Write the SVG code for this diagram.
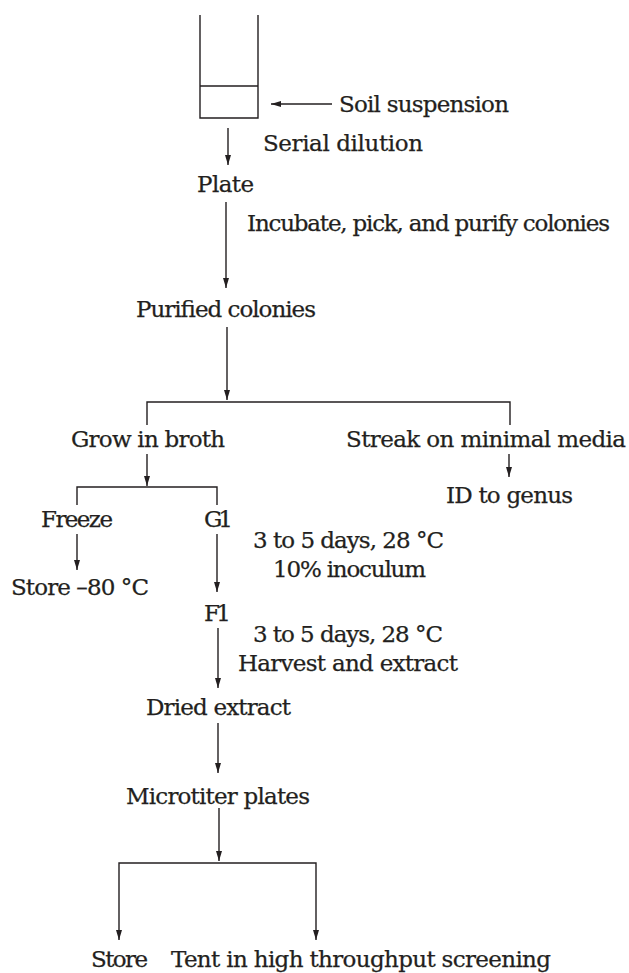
<svg xmlns="http://www.w3.org/2000/svg" width="629" height="973" viewBox="0 0 629 973">
<style>
text{font-family:"DejaVu Serif","Liberation Serif",serif;font-size:23px;fill:#231f20;stroke:#231f20;stroke-width:0.25}
.ln{fill:none;stroke:#231f20;stroke-width:1.4}
.ar{fill:none;stroke:#231f20;stroke-width:1.4;marker-end:url(#ah)}
</style>
<defs>
<marker id="ah" markerUnits="userSpaceOnUse" markerWidth="10" markerHeight="6" refX="10" refY="3" orient="auto" viewBox="0 0 10 6">
<path d="M0,0 L10,3 L0,6 z" fill="#231f20"/>
</marker>
</defs>
<rect width="629" height="973" fill="#fff"/>
<g id="tube">
<path class="ln" d="M200,15 V118 H258 V15 M200,86 H258"/>
</g>
<g id="connectors">
<line class="ar" x1="332" y1="104" x2="271" y2="104"/>
<line class="ar" x1="228" y1="128" x2="228" y2="165"/>
<line class="ar" x1="226" y1="202" x2="226" y2="288"/>
<line class="ar" x1="227" y1="327" x2="227" y2="400"/>
<path class="ln" d="M147,425 V402 H510 V425"/>
<line class="ar" x1="147" y1="454" x2="147" y2="486"/>
<path class="ln" d="M77,505 V487 H217 V505"/>
<line class="ar" x1="509" y1="454" x2="509" y2="477"/>
<line class="ar" x1="77" y1="534" x2="77" y2="570"/>
<line class="ar" x1="217" y1="534" x2="217" y2="592"/>
<line class="ar" x1="218" y1="628" x2="218" y2="688"/>
<line class="ar" x1="218" y1="723" x2="218" y2="773"/>
<line class="ar" x1="219" y1="808" x2="219" y2="861"/>
<path class="ar" d="M219,863 H119 V940"/>
<path class="ar" d="M219,863 H316 V940"/>
</g>
<g id="n-soil"><text x="339" y="112" textLength="170">Soil suspension</text></g>
<g id="l-serial"><text x="263" y="151" textLength="160">Serial dilution</text></g>
<g id="n-plate"><text x="197" y="192" textLength="57">Plate</text></g>
<g id="l-incubate"><text x="247" y="231" textLength="363">Incubate, pick, and purify colonies</text></g>
<g id="n-purified"><text x="136" y="317" textLength="180">Purified colonies</text></g>
<g id="n-grow"><text x="71" y="447" textLength="154">Grow in broth</text></g>
<g id="n-streak"><text x="346" y="447" textLength="280">Streak on minimal media</text></g>
<g id="n-id"><text x="446" y="503" textLength="127">ID to genus</text></g>
<g id="n-freeze"><text x="41" y="527" textLength="72">Freeze</text></g>
<g id="n-g1"><text x="204" y="527" textLength="29">G1</text></g>
<g id="l-g1"><text x="253" y="548" textLength="191">3 to 5 days, 28 °C</text><text x="273" y="577" textLength="153">10% inoculum</text></g>
<g id="n-store80"><text x="11" y="595" textLength="138">Store –80 °C</text></g>
<g id="n-f1"><text x="204" y="621" textLength="27">F1</text></g>
<g id="l-f1"><text x="253" y="642" textLength="190">3 to 5 days, 28 °C</text><text x="238" y="671" textLength="220">Harvest and extract</text></g>
<g id="n-dried"><text x="146" y="715" textLength="145">Dried extract</text></g>
<g id="n-micro"><text x="126" y="804" textLength="184">Microtiter plates</text></g>
<g id="n-store"><text x="91" y="967" textLength="57">Store</text></g>
<g id="n-tent"><text x="171" y="967" textLength="380">Tent in high throughput screening</text></g>
</svg>
